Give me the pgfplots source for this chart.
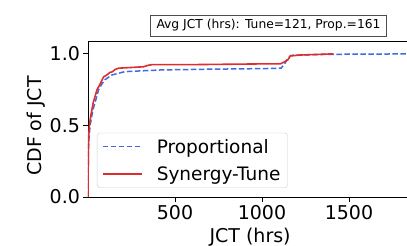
\documentclass[border=0pt]{standalone}
\usepackage{fontspec}
\setmainfont{DejaVu Sans}
\usepackage{pgfplots}
\pgfplotsset{compat=1.18}
\definecolor{propblue}{RGB}{65,105,225}
\definecolor{tunered}{RGB}{222,45,45}
\begin{document}
\begin{tikzpicture}
\begin{axis}[
  at={(0pt,0pt)}, anchor=south west,
  scale only axis, width=321pt, height=156pt,
  xmin=0, xmax=1845, ymin=0, ymax=1.09,
  xtick={500,1000,1500}, ytick={0,0.5,1.0},
  yticklabel style={/pgf/number format/fixed, /pgf/number format/fixed zerofill, /pgf/number format/precision=1},
  /pgf/number format/assume math mode=true,
  /pgf/number format/1000 sep={},
  tick label style={font=\fontsize{19}{22}\selectfont},
  tick align=outside, major tick length=4.5pt,
  xtick pos=bottom, ytick pos=left,
  axis line style={line width=0.8pt},
  every tick/.style={black, line width=0.8pt},
  xlabel={JCT (hrs)}, ylabel={CDF of JCT},
  every axis x label/.style={at={(axis description cs:0.505,0)}, anchor=base, yshift=-45.5pt, font=\fontsize{19}{22}\selectfont},
  every axis y label/.style={at={(axis description cs:-0.16,0.455)}, anchor=center, rotate=90, font=\fontsize{19}{22}\selectfont},
  legend cell align=left,
  legend style={at={(axis description cs:0.028,0.058)}, anchor=south west,
    font=\fontsize{18.5}{22}\selectfont, draw=black!20, rounded corners=3pt,
    fill=white, fill opacity=0.8, draw opacity=1, text opacity=1, inner xsep=5pt, inner ysep=4pt,
    row sep=8pt},
  legend image code/.code={\draw[#1] (0pt,0pt) -- (39pt,0pt); \path (51pt,0pt);},
]
\addplot[propblue, line width=1.5pt, dash pattern=on 5.5pt off 2.5pt] coordinates {
(0,0) (2,0.3) (5,0.4) (12,0.5) (25,0.587) (33,0.63) (50,0.70) (61,0.75) (80,0.79)
(98,0.82) (138,0.853) (213,0.876) (425,0.888) (700,0.893) (1000,0.897) (1110,0.90)
(1130,0.93) (1150,0.97) (1167,0.99) (1300,0.995) (1500,0.998) (1900,1.0)
};
\addlegendentry{Proportional}
\addplot[tunered, line width=1.6pt] coordinates {
(0,0) (1,0.2) (3,0.4) (8,0.5) (15,0.56) (21,0.6) (30,0.66) (40,0.70) (52,0.75)
(70,0.79) (90,0.84) (105,0.85) (126,0.87) (140,0.875) (155,0.89) (175,0.90)
(250,0.905) (320,0.91) (345,0.92) (370,0.925) (600,0.925) (1000,0.93) (1105,0.93)
(1130,0.945) (1150,0.96) (1162,0.985) (1220,0.992) (1410,1.0)
};
\addlegendentry{Synergy-Tune}
\end{axis}
\node[draw=black!70, line width=0.8pt, fill=white, inner xsep=6pt, inner ysep=4.5pt,
  font=\fontsize{12.3}{14}\selectfont] at (180.5pt,171.5pt)
  {Avg JCT (hrs): Tune=121, Prop.=161};
\pgfresetboundingbox
\useasboundingbox (-88pt,-49pt) rectangle (319pt,197pt);
\end{tikzpicture}
\end{document}
